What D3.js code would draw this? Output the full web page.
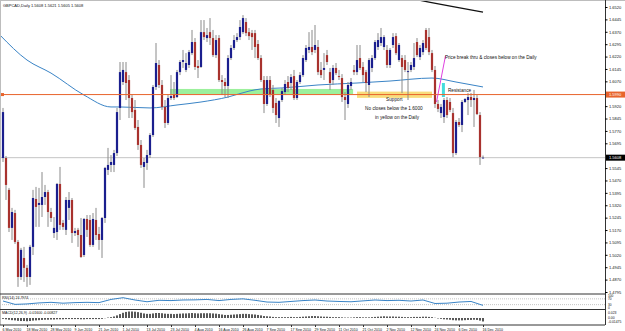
<!DOCTYPE html>
<html>
<head>
<meta charset="utf-8">
<script src="https://cdn.jsdelivr.net/npm/d3@7"></script>
<style>
body { margin: 0; background: #fff; }
svg { display: block; font-family: 'Liberation Sans', Arial, sans-serif; }
</style>
</head>
<body>
<div id="container"></div>
<script>
const width = 625;
const height = 331;
const chartRight = 605;
const mainBottom = 294;
const rsiBottom = 309.5;
const macdBottom = 325;

// daily bars, 6 May 2010 .. 16 Dec 2010 (index 0..160)
const opens = [
1.5606,1.5606,1.5413,1.5183,1.5273,1.5098,1.4886,1.5001,1.4941,1.4886,
1.5068,1.5358,1.5322,1.5322,1.5370,1.5400,1.5279,1.5152,1.5158,1.5449,
1.5213,1.5171,1.5304,1.5352,1.5152,1.5171,1.5140,1.5019,1.5237,1.5231,
1.5080,1.5231,1.5146,1.5110,1.5243,1.5534,1.5564,1.5564,1.5636,1.5909,
1.6066,1.6126,1.6078,1.5969,1.5897,1.5794,1.5685,1.5552,1.5576,1.5624,
1.5745,1.6036,1.6169,1.6048,1.5915,1.5818,1.5969,1.5993,1.5975,1.6126,
1.6187,1.6139,1.6169,1.6241,1.6308,1.6163,1.6157,1.6368,1.6332,1.6368,
1.6332,1.6229,1.6332,1.6078,1.6066,1.6042,1.6211,1.6272,1.6320,1.6338,
1.6368,1.6429,1.6368,1.6362,1.6362,1.6296,1.6211,1.6078,1.5933,1.6078,
1.6018,1.5939,1.5848,1.5957,1.6005,1.6066,1.6060,1.6102,1.5969,1.6066,
1.6108,1.6199,1.6260,1.6278,1.6260,1.6278,1.6139,1.6139,1.6229,1.6126,
1.6078,1.6151,1.6102,1.6090,1.5975,1.5933,1.6042,1.6139,1.6126,1.6211,
1.6157,1.6126,1.6048,1.6151,1.6211,1.6278,1.6302,1.6278,1.6260,1.6169,
1.6290,1.6344,1.6199,1.6211,1.6199,1.6126,1.6139,1.6157,1.6308,1.6217,
1.6247,1.6381,1.6338,1.6241,1.6139,1.5933,1.5878,1.5854,1.5957,1.5945,
1.5878,1.5636,1.5824,1.5806,1.5945,1.5957,1.5975,1.5957,1.5969,1.5866,
1.5608];
const highs = [
1.5909,1.5618,1.5425,1.5304,1.5292,1.5110,1.5062,1.5068,1.4959,1.5080,
1.5413,1.5431,1.5425,1.5521,1.5443,1.5413,1.5304,1.5249,1.5455,1.5552,
1.5231,1.5370,1.5400,1.5364,1.5183,1.5183,1.5243,1.5243,1.5261,1.5261,
1.5273,1.5304,1.5189,1.5249,1.5552,1.5667,1.5624,1.5655,1.5909,1.6187,
1.6187,1.6187,1.6108,1.5987,1.5957,1.5836,1.5715,1.5606,1.5655,1.5757,
1.6048,1.6302,1.6199,1.6078,1.5957,1.5987,1.6108,1.6066,1.6139,1.6199,
1.6260,1.6241,1.6260,1.6381,1.6332,1.6199,1.6441,1.6441,1.6393,1.6453,
1.6381,1.6350,1.6350,1.6108,1.6090,1.6229,1.6290,1.6350,1.6362,1.6441,
1.6471,1.6453,1.6393,1.6381,1.6381,1.6320,1.6229,1.6102,1.6102,1.6102,
1.6048,1.5969,1.5957,1.6030,1.6078,1.6102,1.6114,1.6139,1.6078,1.6126,
1.6229,1.6290,1.6368,1.6381,1.6411,1.6320,1.6187,1.6241,1.6260,1.6151,
1.6169,1.6181,1.6139,1.6114,1.6005,1.6066,1.6090,1.6169,1.6290,1.6290,
1.6187,1.6139,1.6211,1.6229,1.6320,1.6362,1.6393,1.6350,1.6290,1.6272,
1.6362,1.6362,1.6302,1.6229,1.6229,1.6187,1.6187,1.6302,1.6332,1.6290,
1.6320,1.6393,1.6393,1.6260,1.6163,1.5957,1.5933,1.5969,1.5975,1.5969,
1.5909,1.5836,1.5848,1.5957,1.5969,1.5999,1.5999,1.6018,1.5987,1.5884,
1.5621];
const lows = [
1.5582,1.5352,1.5158,1.5110,1.5086,1.4826,1.4868,1.4856,1.4826,1.4838,
1.5019,1.5189,1.5189,1.5249,1.5322,1.5189,1.5219,1.5122,1.5110,1.5171,
1.5171,1.5140,1.5231,1.5092,1.5134,1.5068,1.5001,1.5007,1.5128,1.5068,
1.5068,1.5110,1.5050,1.5001,1.5213,1.5503,1.5521,1.5521,1.5618,1.5836,
1.6048,1.5957,1.5848,1.5848,1.5776,1.5655,1.5546,1.5425,1.5534,1.5606,
1.5733,1.6018,1.6030,1.5897,1.5788,1.5806,1.5957,1.5957,1.5969,1.6108,
1.6151,1.6126,1.6151,1.6229,1.6139,1.6090,1.6151,1.6320,1.6308,1.6290,
1.6217,1.6211,1.6066,1.5987,1.5975,1.5969,1.6199,1.6260,1.6308,1.6320,
1.6356,1.6344,1.6320,1.6260,1.6211,1.6199,1.6066,1.5878,1.5921,1.5975,
1.5878,1.5818,1.5794,1.5945,1.5987,1.6005,1.6018,1.5957,1.5957,1.6054,
1.6096,1.6187,1.6241,1.6229,1.6241,1.6108,1.6090,1.6078,1.6169,1.6018,
1.6048,1.6108,1.6078,1.5945,1.5836,1.5909,1.6018,1.6108,1.6108,1.6139,
1.6066,1.6005,1.5975,1.6126,1.6199,1.6260,1.6284,1.6260,1.6151,1.6151,
1.6272,1.6229,1.6187,1.5999,1.6126,1.5957,1.6126,1.6139,1.6217,1.6199,
1.6229,1.6260,1.6229,1.6126,1.5909,1.5884,1.5848,1.5818,1.5848,1.5884,
1.5612,1.5624,1.5794,1.5763,1.5939,1.5866,1.5915,1.5794,1.5866,1.5564,
1.5605];
const closes = [
1.5884,1.5443,1.5183,1.5279,1.5098,1.4886,1.5050,1.4941,1.4886,1.5068,
1.5364,1.5310,1.5334,1.5370,1.5400,1.5279,1.5243,1.5183,1.5449,1.5201,
1.5189,1.5352,1.5352,1.5152,1.5164,1.5140,1.5007,1.5237,1.5171,1.5080,
1.5237,1.5140,1.5110,1.5243,1.5546,1.5564,1.5582,1.5636,1.5884,1.6126,
1.6139,1.6060,1.5969,1.5884,1.5788,1.5685,1.5564,1.5582,1.5624,1.5745,
1.6036,1.6181,1.6048,1.5915,1.5818,1.5969,1.5981,1.5969,1.6126,1.6187,
1.6199,1.6181,1.6247,1.6308,1.6157,1.6151,1.6368,1.6338,1.6350,1.6332,
1.6229,1.6320,1.6078,1.6066,1.6042,1.6211,1.6272,1.6320,1.6338,1.6399,
1.6453,1.6362,1.6344,1.6338,1.6278,1.6211,1.6078,1.5933,1.6078,1.5993,
1.5909,1.5866,1.5951,1.6011,1.6054,1.6030,1.6096,1.5969,1.6066,1.6108,
1.6211,1.6272,1.6278,1.6247,1.6290,1.6126,1.6108,1.6151,1.6187,1.6060,
1.6151,1.6120,1.6096,1.5975,1.5957,1.6048,1.6066,1.6126,1.6199,1.6151,
1.6108,1.6060,1.6199,1.6211,1.6308,1.6320,1.6338,1.6338,1.6169,1.6260,
1.6338,1.6241,1.6290,1.6157,1.6139,1.6132,1.6169,1.6211,1.6229,1.6272,
1.6302,1.6272,1.6247,1.6139,1.5933,1.5903,1.5915,1.5957,1.5866,1.5897,
1.5636,1.5824,1.5806,1.5945,1.5963,1.5975,1.5957,1.5969,1.5872,1.5612,
1.5608];

// moving average
const maBars = [-1, 8, 16, 27, 36, 39, 49, 58, 66, 75, 82, 86, 93, 105, 118, 129, 143, 151, 160];
const maValues = [1.6350, 1.6199, 1.6120, 1.5987, 1.5915, 1.5915, 1.5909, 1.5927, 1.5945, 1.5975, 1.6011, 1.6024, 1.6030, 1.6048, 1.6060, 1.6072, 1.6090, 1.6066, 1.6036];

// the black average crossing the top edge
const slowBars = [128, 142, 150, 160];
const slowValues = [1.6600, 1.6550, 1.6522, 1.6489];

const rsiBars = d3.range(0, 161, 4);
const rsiValues = [55, 32, 35, 42, 46, 40, 44, 46, 44, 66, 78, 62, 50, 60, 58, 62, 63, 66, 58, 66, 70,
                   60, 48, 46, 52, 58, 62, 55, 52, 50, 56, 62, 58, 60, 55, 62, 38, 40, 48, 52, 25];

const macdValues = [
-0.004,-0.006,-0.008,-0.010,-0.011,-0.013,-0.014,-0.014,-0.015,-0.014,
-0.012,-0.011,-0.010,-0.009,-0.008,-0.008,-0.007,-0.007,-0.006,-0.006,
-0.006,-0.005,-0.005,-0.005,-0.005,-0.005,-0.006,-0.006,-0.005,-0.005,
-0.005,-0.005,-0.005,-0.004,-0.001,0.002,0.004,0.007,0.012,0.018,
0.024,0.028,0.030,0.030,0.029,0.027,0.024,0.021,0.019,0.019,
0.021,0.023,0.023,0.022,0.020,0.019,0.019,0.018,0.019,0.020,
0.021,0.021,0.022,0.023,0.022,0.021,0.022,0.022,0.022,0.022,
0.021,0.020,0.018,0.016,0.014,0.014,0.015,0.016,0.017,0.018,
0.019,0.019,0.018,0.017,0.016,0.014,0.012,0.009,0.008,0.007,
0.005,0.004,0.004,0.004,0.004,0.004,0.005,0.004,0.004,0.005,
0.006,0.007,0.008,0.009,0.009,0.008,0.007,0.006,0.006,0.005,
0.004,0.004,0.004,0.003,0.002,0.002,0.002,0.003,0.004,0.004,
0.003,0.003,0.003,0.004,0.005,0.006,0.007,0.008,0.007,0.007,
0.007,0.006,0.006,0.005,0.004,0.004,0.004,0.005,0.005,0.005,
0.006,0.006,0.005,0.004,0.001,-0.002,-0.004,-0.006,-0.007,-0.008,
-0.010,-0.011,-0.011,-0.011,-0.010,-0.009,-0.009,-0.008,-0.009,-0.012,
-0.016];

// 1.5995 and 1.5620 sit under the level boxes
const priceTicks = [1.6520, 1.6445, 1.6370, 1.6295, 1.6220, 1.6145, 1.6070, 1.5920, 1.5845, 1.5770, 1.5695,
                    1.5545, 1.5470, 1.5395, 1.5320, 1.5245, 1.5170, 1.5095, 1.5020, 1.4945, 1.4870, 1.4795];
const dateLabels = ['6 May 2010', '18 May 2010', '28 May 2010', '9 Jun 2010', '21 Jun 2010', '1 Jul 2010', '13 Jul 2010',
                    '23 Jul 2010', '4 Aug 2010', '16 Aug 2010', '26 Aug 2010', '7 Sep 2010', '17 Sep 2010', '29 Sep 2010',
                    '11 Oct 2010', '21 Oct 2010', '2 Nov 2010', '12 Nov 2010', '24 Nov 2010', '6 Dec 2010', '16 Dec 2010'];
const dateBars = dateLabels.map((d, k) => k * 8);

const supportLevel = 1.5990;
const lastPrice = 1.5608;

const svg = d3.select('#container')
    .append('svg')
    .attr('width', width)
    .attr('height', height)
    .attr('viewBox', '0 0 ' + width + ' ' + height);

svg.append('rect').attr('width', width).attr('height', height).attr('fill', '#fff');

svg.append('defs').append('clipPath').attr('id', 'main-clip')
    .append('rect').attr('x', 0).attr('y', 0).attr('width', chartRight).attr('height', mainBottom);

const xScale = d3.scaleLinear().domain([0, 160]).range([3, 483]);
const yScale = d3.scaleLinear().domain([1.4795, 1.6520]).range([292, 7]);
const rsiScale = d3.scaleLinear().domain([0, 100]).range([309, 294.5]);
const macdScale = d3.scaleLinear().domain([-0.01475, 0.023]).range([321.2, 313]);

const main = svg.append('g').attr('clip-path', 'url(#main-clip)');

// drawn zones
main.append('rect')
    .attr('x', xScale(55.7)).attr('width', xScale(116.7) - xScale(55.7))
    .attr('y', yScale(1.6024)).attr('height', yScale(1.5993) - yScale(1.6024))
    .attr('fill', '#9cf09c');
main.append('rect')
    .attr('x', xScale(118)).attr('width', xScale(143) - xScale(118))
    .attr('y', yScale(1.6008)).attr('height', yScale(1.5970) - yScale(1.6008))
    .attr('fill', '#f8dc7c');
main.append('rect')
    .attr('x', xScale(146.3)).attr('width', xScale(147.3) - xScale(146.3))
    .attr('y', yScale(1.6060)).attr('height', yScale(1.5975) - yScale(1.6060))
    .attr('fill', '#44dcdc');

main.append('line')
    .attr('x1', 0).attr('x2', chartRight)
    .attr('y1', yScale(lastPrice)).attr('y2', yScale(lastPrice))
    .attr('stroke', '#c4c4c4').attr('stroke-width', 1);

const maLine = d3.line().x((d, k) => xScale(maBars[k])).y(d => yScale(d)).curve(d3.curveMonotoneX);
main.append('path').attr('d', maLine(maValues))
    .attr('fill', 'none').attr('stroke', '#3a84c6').attr('stroke-width', 1);

const slowLine = d3.line().x((d, k) => xScale(slowBars[k])).y(d => yScale(d));
main.append('path').attr('d', slowLine(slowValues))
    .attr('fill', 'none').attr('stroke', '#111').attr('stroke-width', 1.3);

const candles = opens.map((o, i) => ({ i: i, o: o, h: highs[i], l: lows[i], c: closes[i] }));

main.selectAll('line.wick')
    .data(candles)
    .enter()
    .append('line')
    .attr('class', 'wick')
    .attr('x1', d => xScale(d.i)).attr('x2', d => xScale(d.i))
    .attr('y1', d => yScale(d.h)).attr('y2', d => yScale(d.l))
    .attr('stroke', '#8a8a8a').attr('stroke-width', 1);

main.selectAll('rect.body')
    .data(candles)
    .enter()
    .append('rect')
    .attr('class', 'body')
    .attr('x', d => xScale(d.i) - 1.1)
    .attr('width', 2.2)
    .attr('y', d => yScale(Math.max(d.o, d.c)))
    .attr('height', d => Math.max(0.8, Math.abs(yScale(d.o) - yScale(d.c))))
    .attr('fill', d => d.c >= d.o ? '#1b1f8e' : '#a8322e');

// support line
main.append('line')
    .attr('x1', 0).attr('x2', chartRight)
    .attr('y1', yScale(supportLevel)).attr('y2', yScale(supportLevel))
    .attr('stroke', '#e8642c').attr('stroke-width', 1);
main.append('rect')
    .attr('x', 1).attr('y', yScale(supportLevel) - 1.5).attr('width', 3).attr('height', 3)
    .attr('fill', '#e8642c');

main.append('line')
    .attr('x1', xScale(144.5)).attr('y1', yScale(1.5945))
    .attr('x2', xScale(147.5)).attr('y2', yScale(1.6225))
    .attr('stroke', '#e040e0').attr('stroke-width', 1);

const notes = [
    { bar: 147.3, price: 1.6205, text: 'Price break thru & closes below on the Daily' },
    { bar: 148.3, price: 1.6008, text: 'Resistance' },
    { bar: 127.7, price: 1.5952, text: 'Support' },
    { bar: 120.7, price: 1.5895, text: 'No closes below the 1.6000' },
    { bar: 124, price: 1.5843, text: 'in yellow on the Daily' }
];
main.selectAll('text.note')
    .data(notes)
    .enter()
    .append('text')
    .attr('x', d => xScale(d.bar))
    .attr('y', d => yScale(d.price))
    .attr('font-size', 4.7)
    .attr('fill', '#111')
    .text(d => d.text);

main.append('text').attr('x', 3).attr('y', 6.5).attr('font-size', 4).attr('fill', '#111')
    .text('GBPCAD,Daily  1.5608 1.5621 1.5605 1.5608');

// RSI
svg.selectAll('line.rsilevel')
    .data([70, 30])
    .enter()
    .append('line')
    .attr('x1', 0).attr('x2', chartRight)
    .attr('y1', d => rsiScale(d)).attr('y2', d => rsiScale(d))
    .attr('stroke', '#9a9a9a').attr('stroke-width', 0.6).attr('stroke-dasharray', '1,1');
const rsiLine = d3.line().x((d, k) => xScale(rsiBars[k])).y(d => rsiScale(d));
svg.append('path').attr('d', rsiLine(rsiValues))
    .attr('fill', 'none').attr('stroke', '#3a84c6').attr('stroke-width', 1);
svg.append('text').attr('x', 2).attr('y', 298.5).attr('font-size', 3.6).attr('fill', '#111')
    .text('RSI(14) 24.7974');

// MACD
svg.selectAll('rect.macd')
    .data(macdValues)
    .enter()
    .append('rect')
    .attr('x', (d, i) => xScale(i) - 0.7)
    .attr('width', 1.4)
    .attr('y', d => macdScale(Math.max(0, d)))
    .attr('height', d => Math.abs(macdScale(d) - macdScale(0)))
    .attr('fill', '#111');
svg.append('text').attr('x', 2).attr('y', 313.5).attr('font-size', 3.6).attr('fill', '#111')
    .text('MACD(12,26,9) -0.01600 -0.00827');

// frame
const frame = svg.append('g').attr('stroke', '#333').attr('stroke-width', 1);
frame.append('line').attr('x1', 0).attr('x2', width).attr('y1', 0.5).attr('y2', 0.5).attr('stroke', '#bdbdbd');
frame.append('line').attr('x1', 0.5).attr('x2', 0.5).attr('y1', 0).attr('y2', macdBottom).attr('stroke', '#bdbdbd');
[mainBottom, rsiBottom, macdBottom].forEach(y => {
    frame.append('line').attr('x1', 0).attr('x2', chartRight).attr('y1', y).attr('y2', y);
});

const yAxis = d3.axisRight(yScale).tickValues(priceTicks).tickSize(2.5).tickFormat(d3.format('.4f'));
const yAxisG = svg.append('g').attr('transform', 'translate(' + chartRight + ',0)').call(yAxis);
yAxisG.select('.domain').attr('d', 'M0.5,0V' + macdBottom).attr('stroke', '#333');
yAxisG.selectAll('text').attr('font-size', 4).attr('x', 4).attr('fill', '#111');

// level labels on the axis
[{ v: supportLevel, bg: '#e8642c' }, { v: lastPrice, bg: '#000' }].forEach(lab => {
    svg.append('rect').attr('x', chartRight + 1).attr('y', yScale(lab.v) - 3).attr('width', 20).attr('height', 6).attr('fill', lab.bg);
    svg.append('text').attr('x', chartRight + 4).attr('y', yScale(lab.v) + 1.5).attr('font-size', 4).attr('fill', '#fff')
        .text(d3.format('.4f')(lab.v));
});

const rsiLabels = svg.append('g').attr('font-size', 3.2).attr('fill', '#111');
[[100, 297], [70, 300.4], [30, 305.6], [0, 309]].forEach(r => {
    rsiLabels.append('text').attr('x', chartRight + 3).attr('y', r[1]).text(r[0]);
});
const macdLabels = svg.append('g').attr('font-size', 3.4).attr('fill', '#111');
[['0.023', 314], ['0.00', 319.2], ['-0.01475', 323.4]].forEach(m => {
    macdLabels.append('text').attr('x', chartRight + 3).attr('y', m[1]).text(m[0]);
});

const xAxis = d3.axisBottom(xScale).tickValues(dateBars).tickSize(2).tickFormat((d, k) => dateLabels[k]);
const xAxisG = svg.append('g').attr('transform', 'translate(0,' + macdBottom + ')').call(xAxis);
xAxisG.select('.domain').remove();
xAxisG.selectAll('line').attr('stroke', '#333');
xAxisG.selectAll('text').attr('font-size', 3.6).attr('text-anchor', 'start').attr('dx', -1).attr('y', 2.5).attr('dy', '0.9em').attr('fill', '#111');
</script>
</body>
</html>
